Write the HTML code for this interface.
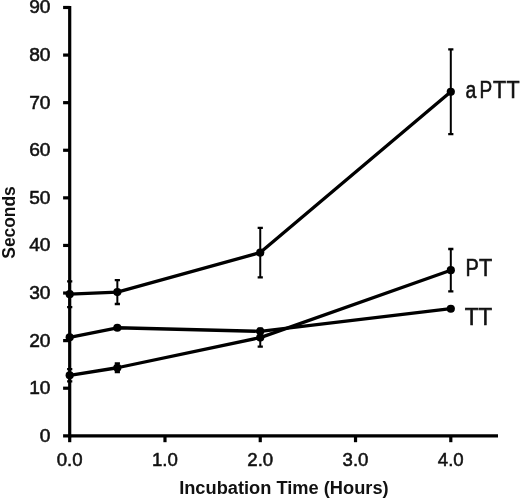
<!DOCTYPE html>
<html><head><meta charset="utf-8"><title>Chart</title>
<style>html,body{margin:0;padding:0;background:#fff}svg{display:block;will-change:transform;transform:translateZ(0)}text{font-family:"Liberation Sans",sans-serif;fill:#111}</style></head><body>
<svg width="520" height="498" viewBox="0 0 520 498">
<rect width="520" height="498" fill="#fff"/>
<g stroke="#000" stroke-width="3.2" fill="none">
<line x1="69.7" y1="5.89" x2="69.7" y2="437.40"/>
<line x1="63.1" y1="435.8" x2="498" y2="435.8"/>
<line x1="63.1" y1="388.21" x2="69.7" y2="388.21"/>
<line x1="63.1" y1="340.62" x2="69.7" y2="340.62"/>
<line x1="63.1" y1="293.03" x2="69.7" y2="293.03"/>
<line x1="63.1" y1="245.44" x2="69.7" y2="245.44"/>
<line x1="63.1" y1="197.85" x2="69.7" y2="197.85"/>
<line x1="63.1" y1="150.26" x2="69.7" y2="150.26"/>
<line x1="63.1" y1="102.67" x2="69.7" y2="102.67"/>
<line x1="63.1" y1="55.08" x2="69.7" y2="55.08"/>
<line x1="63.1" y1="7.49" x2="69.7" y2="7.49"/>
<line x1="69.70" y1="435.8" x2="69.70" y2="442.2"/>
<line x1="164.98" y1="435.8" x2="164.98" y2="442.2"/>
<line x1="260.25" y1="435.8" x2="260.25" y2="442.2"/>
<line x1="355.53" y1="435.8" x2="355.53" y2="442.2"/>
<line x1="450.80" y1="435.8" x2="450.80" y2="442.2"/>
</g>
<g stroke="#000" stroke-width="2" fill="none">
<path d="M69.70 281.37V307.07"/><path stroke-width="2.3" d="M67.10 281.37h5.2M67.10 307.07h5.2"/>
<path d="M117.34 280.18V303.98"/><path stroke-width="2.3" d="M114.74 280.18h5.2M114.74 303.98h5.2"/>
<path d="M260.25 227.83V277.33"/><path stroke-width="2.3" d="M257.65 227.83h5.2M257.65 277.33h5.2"/>
<path d="M450.80 49.46V134.17"/><path stroke-width="2.3" d="M448.20 49.46h5.2M448.20 134.17h5.2"/>
<path d="M69.70 369.08V381.45"/><path stroke-width="2.3" d="M67.10 369.08h5.2M67.10 381.45h5.2"/>
<path d="M117.34 363.46V372.03"/><path stroke-width="2.3" d="M114.74 363.46h5.2M114.74 372.03h5.2"/>
<path d="M260.25 328.53V346.71"/><path stroke-width="2.3" d="M257.65 328.53h5.2M257.65 346.71h5.2"/>
<path d="M450.80 249.01V291.36"/><path stroke-width="2.3" d="M448.20 249.01h5.2M448.20 291.36h5.2"/>
</g>
<g stroke="#000" stroke-width="3.3" fill="none" stroke-linejoin="round" stroke-linecap="round">
<path d="M69.70 294.22 L117.34 292.08 L260.25 252.58 L450.80 91.82"/>
<path d="M69.70 375.27 L117.34 367.75 L260.25 337.62 L450.80 270.19"/>
<path d="M69.70 337.29 L117.34 327.77 L260.25 331.34 L450.80 308.73"/>
</g>
<g fill="#000">
<circle cx="69.70" cy="294.22" r="4.1"/>
<circle cx="117.34" cy="292.08" r="4.1"/>
<circle cx="260.25" cy="252.58" r="4.1"/>
<circle cx="450.80" cy="91.82" r="4.1"/>
<circle cx="69.70" cy="375.27" r="4.1"/>
<circle cx="117.34" cy="367.75" r="4.1"/>
<circle cx="260.25" cy="337.62" r="4.1"/>
<circle cx="450.80" cy="270.19" r="4.1"/>
<circle cx="69.70" cy="337.29" r="4.1"/>
<circle cx="117.34" cy="327.77" r="4.1"/>
<circle cx="260.25" cy="331.34" r="4.1"/>
<circle cx="450.80" cy="308.73" r="4.1"/>
</g>
<g font-size="19.2" text-anchor="end" stroke="#111" stroke-width="0.55">
<text x="50.5" y="441.75">0</text>
<text x="50.5" y="394.16">10</text>
<text x="50.5" y="346.57">20</text>
<text x="50.5" y="298.98">30</text>
<text x="50.5" y="251.39">40</text>
<text x="50.5" y="203.80">50</text>
<text x="50.5" y="156.21">60</text>
<text x="50.5" y="108.62">70</text>
<text x="50.5" y="61.03">80</text>
<text x="50.5" y="13.44">90</text>
</g>
<g font-size="19.2" text-anchor="middle" stroke="#111" stroke-width="0.55">
<text x="69.70" y="466.0" textLength="25.9" lengthAdjust="spacingAndGlyphs">0.0</text>
<text x="164.98" y="466.0" textLength="25.9" lengthAdjust="spacingAndGlyphs">1.0</text>
<text x="260.25" y="466.0" textLength="25.9" lengthAdjust="spacingAndGlyphs">2.0</text>
<text x="355.53" y="466.0" textLength="25.9" lengthAdjust="spacingAndGlyphs">3.0</text>
<text x="450.80" y="466.0" textLength="25.9" lengthAdjust="spacingAndGlyphs">4.0</text>
</g>
<g font-size="24.5" stroke="#111" stroke-width="0.6">
<text y="98.0"><tspan x="465.61" textLength="10.80" lengthAdjust="spacingAndGlyphs">a</tspan><tspan x="479.44" textLength="12.71" lengthAdjust="spacingAndGlyphs">P</tspan><tspan x="492.98" textLength="13.12" lengthAdjust="spacingAndGlyphs">T</tspan><tspan x="506.58" textLength="13.12" lengthAdjust="spacingAndGlyphs">T</tspan></text>
<text y="275.8"><tspan x="465.47" textLength="13.32" lengthAdjust="spacingAndGlyphs">P</tspan><tspan x="478.98" textLength="13.22" lengthAdjust="spacingAndGlyphs">T</tspan></text>
<text y="324.8"><tspan x="464.77" textLength="13.85" lengthAdjust="spacingAndGlyphs">T</tspan><tspan x="478.57" textLength="13.64" lengthAdjust="spacingAndGlyphs">T</tspan></text>
</g>
<text x="283.9" y="493.5" font-size="18.0" font-weight="bold" text-anchor="middle" textLength="209.5" lengthAdjust="spacingAndGlyphs">Incubation Time (Hours)</text>
<text transform="translate(15.1 222.5) rotate(-90)" font-size="17.6" font-weight="bold" text-anchor="middle" textLength="72.4" lengthAdjust="spacingAndGlyphs">Seconds</text>
</svg></body></html>
